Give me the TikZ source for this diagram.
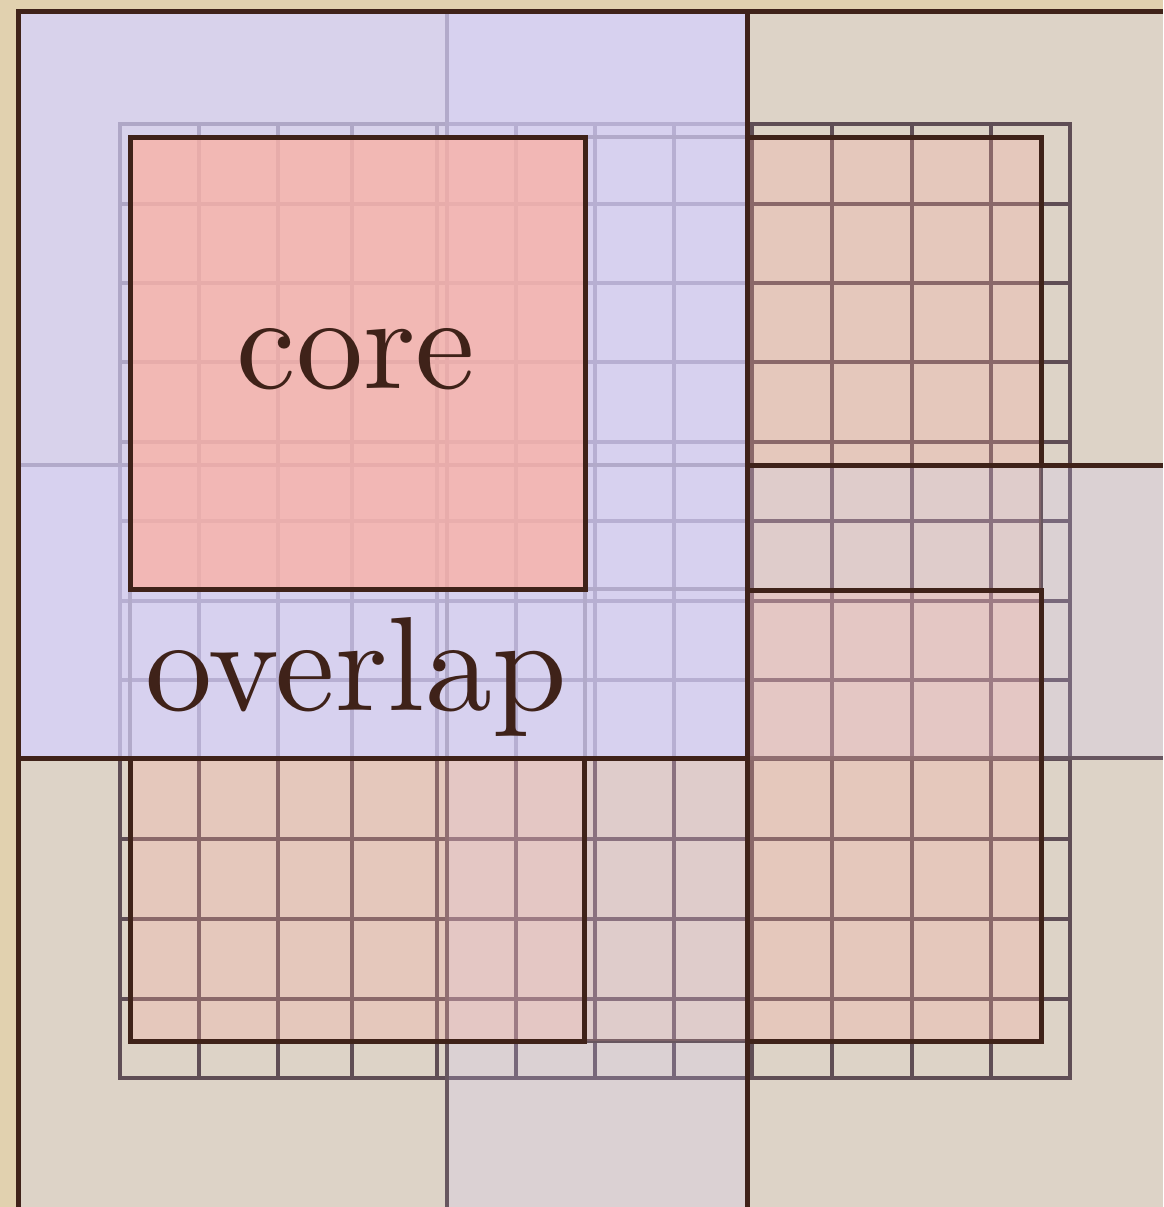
\documentclass[tikz,border=0pt]{standalone}
\usepackage{fontspec}
\setmainfont{Latin Modern Roman}
\newfontfamily\lblfont{lmroman10-regular.otf}
\definecolor{tanbg}{HTML}{E1D1AF}
\definecolor{paper}{HTML}{DDD3C7}
\definecolor{gridc}{HTML}{5F4D55}
\definecolor{seamc}{HTML}{67565F}
\definecolor{lav}{HTML}{D4CAFF}
\definecolor{pinkc}{HTML}{FDAEA0}
\definecolor{ovl}{HTML}{D6D2FD}
\definecolor{ink}{HTML}{3F2219}
\tikzset{
  gridline/.style={draw=gridc, line width=4pt, line cap=rect},
  seam/.style={draw=seamc, line width=4.5pt},
  border/.style={draw=ink, line width=5pt, line join=miter},
  lbl/.style={text=ink, font=\lblfont\fontsize{134}{134}\selectfont, anchor=base, inner sep=0pt}
}
\begin{document}
\begin{tikzpicture}[x=1pt,y=-1pt]
\useasboundingbox (0,0) rectangle (1163,1207);
\clip (0,0) rectangle (1163,1207);
% paper
\fill[tanbg] (0,0) rectangle (1163,1207);
\fill[paper] (18,12) rectangle (1163,1207);
% fine grid
\foreach \x in {120,199,278,352,437,516,595,674,752,832,912,991,1070}
  \draw[gridline] (\x,124) -- (\x,1078);
\foreach \y in {124,204,283,362,442,521,601,680,759,839,919,999,1078}
  \draw[gridline] (120,\y) -- (1070,\y);
% lavender strips (union)
\fill[lav, opacity=0.22] (447,12) rectangle (747,1207) (18,465) rectangle (1163,758);
% seams
\draw[seam] (447,12) -- (447,1207);
\draw[seam] (18,465) -- (747,465);
\draw[seam] (747,758) -- (1163,758);
\draw[seam] (130,589) -- (130,758);
\draw[seam] (585,589) -- (585,758);
\draw[seam] (585,137) -- (747,137);
\draw[seam] (585,589) -- (747,589);
\draw[seam] (1041,465) -- (1041,590);
\draw[seam] (584,1041) -- (747,1041);
% neighbour cores
\fill[pinkc, opacity=0.28] (747,137) rectangle (1041,465);
\fill[pinkc, opacity=0.14] (747,465) rectangle (1041,590);
\fill[pinkc, opacity=0.28] (747,590) rectangle (1041,1041);
\fill[pinkc, opacity=0.28] (130,758) rectangle (584,1041);
\fill[pinkc, opacity=0.14] (584,758) rectangle (747,1041);
% overlap region
\fill[ovl, opacity=0.68] (18,12) rectangle (747,758);
% core
\fill[pinkc, opacity=0.72] (130,137) rectangle (585,589);
% borders
\draw[border] (18,1207) -- (18,12) -- (1163,12);
\draw[border] (747,12) -- (747,1207);
\draw[border] (18,758) -- (747,758);
\draw[border] (747,465) -- (1163,465);
\draw[border] (130,137) rectangle (585,589);
\draw[border] (747,137) -- (1041,137) -- (1041,465);
\draw[border] (747,590) -- (1041,590) -- (1041,1041) -- (747,1041);
\draw[border] (130,758) -- (130,1041) -- (584,1041) -- (584,758);
% labels
\node[lbl] (core) at (356,388) {core};
\node[lbl] (overlap) at (356,710) {overlap};
\end{tikzpicture}
\end{document}
